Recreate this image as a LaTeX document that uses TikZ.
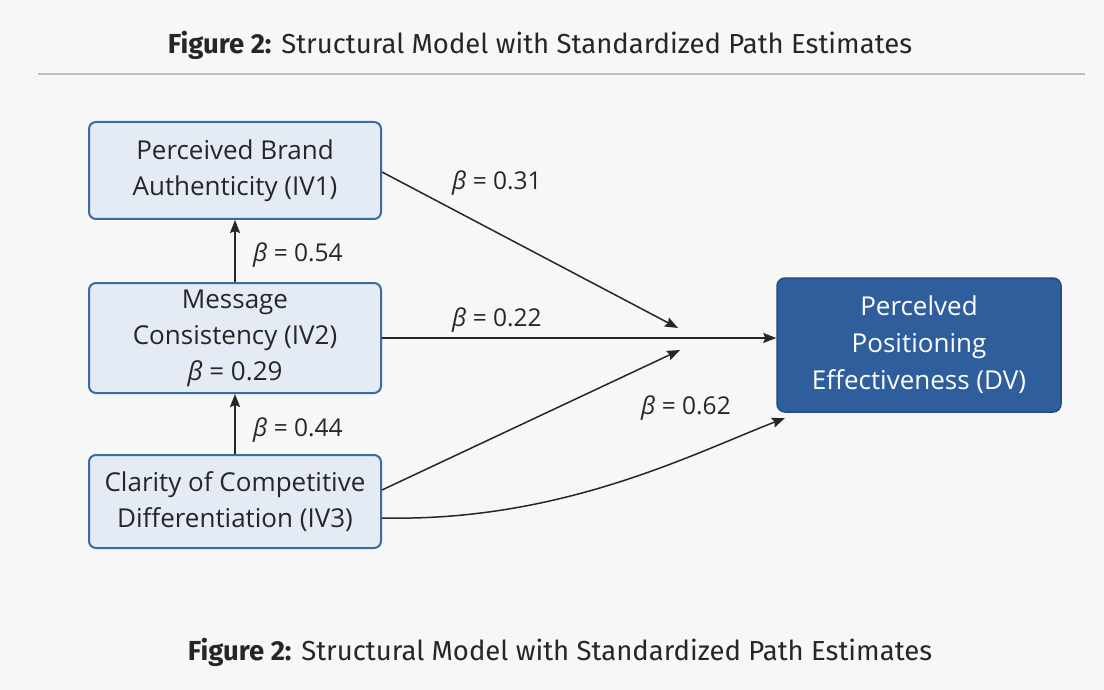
\documentclass[tikz,border=0pt]{standalone}
\usepackage{fontspec}
\setmainfont{Open Sans}
\newfontfamily\capfont{Fira Sans}
\usetikzlibrary{arrows.meta}
\definecolor{bgc}{HTML}{F7F7F7}
\definecolor{boxfill}{HTML}{E4EBF4}
\definecolor{boxedge}{HTML}{3A6BA5}
\definecolor{dvfill}{HTML}{2F5E9C}
\definecolor{txt}{HTML}{262626}
\tikzset{
  x=1pt, y=-1pt,
  ivbox/.style={draw=boxedge, line width=2pt, fill=boxfill, rounded corners=7pt,
     minimum width=292pt, align=center, text=txt, inner sep=2pt,
     execute at begin node={\vspace*{7pt}},
     font=\fontsize{26}{36}\selectfont},
  dvbox/.style={draw=dvfill!80!black, line width=1.5pt, fill=dvfill, rounded corners=8pt,
     minimum width=284pt, minimum height=134pt, align=center, text=white, inner sep=2pt,
     execute at begin node={\vspace*{7pt}},
     font=\fontsize{26}{37}\selectfont},
  pathline/.style={draw=black!85, line width=1.5pt, -{Stealth[length=13pt,width=10pt,inset=2pt]}},
  coef/.style={text=txt, font=\fontsize{24.5}{28}\selectfont},
  captext/.style={text=txt, font=\capfont\fontsize{27.5}{32}\selectfont},
}
\newcommand{\bb}{\textit{β}}
\begin{document}
\begin{tikzpicture}
\fill[bgc] (0,0) rectangle (1104,690);
\useasboundingbox (0,0) rectangle (1104,690);

\node[captext] (title) at (540,45) {\textbf{Figure 2:} Structural Model with Standardized Path Estimates};
\coordinate (rl) at (38,74);
\coordinate (rr) at (1085,74);
\draw[black!25, line width=1.5pt] (rl) -- (rr);

\node[ivbox, minimum height=97pt] (iv1) at (235,170.5) {Perceived Brand\\Authenticity (IV1)};
\node[ivbox, minimum height=110pt] (iv2) at (235,338) {Message\\Consistency (IV2)\\\bb{} = 0.29};
\node[ivbox, minimum height=93pt] (iv3) at (235,501.5) {Clarity of Competitive\\Differentiation (IV3)};
\node[dvbox] (dv) at (919,345) {Percelved\\Positioning\\Effectiveness (DV)};

\coordinate (m1) at (678,328);
\coordinate (m3) at (680,350);
\coordinate (m4) at (785,418);

\draw[pathline] (iv3.north) -- (iv2.south);
\draw[pathline] (iv2.north) -- (iv1.south);
\draw[pathline] ([yshift=-1.5pt]iv1.east) -- (m1);
\draw[pathline] (iv2.east) -- ([yshift=7pt]dv.west);
\draw[pathline] ([yshift=11.5pt]iv3.east) -- (m3);
\draw[pathline] ([yshift=-16.5pt]iv3.east) .. controls (560,522) and (690,455) .. (m4);

\node[coef] (c54) at (298,255) {\bb{} = 0.54};
\node[coef] (c44) at (298,430) {\bb{} = 0.44};
\node[coef] (c31) at (497,183) {\bb{} = 0.31};
\node[coef] (c22) at (497,320) {\bb{} = 0.22};
\node[coef] (c62) at (686,408) {\bb{} = 0.62};

\node[captext] (caption) at (560,652) {\textbf{Figure 2:} Structural Model with Standardized Path Estimates};
\end{tikzpicture}
\end{document}
